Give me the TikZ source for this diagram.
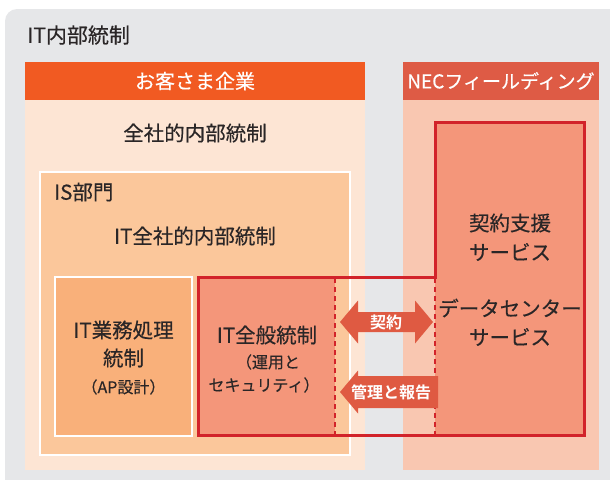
\documentclass[tikz,border=0pt]{standalone}
\usepackage{fontspec}
\setmainfont{Noto Sans CJK JP}[FakeBold=0.35]
\newfontfamily\jpbold{Noto Sans CJK JP Bold}
\definecolor{bggray}{HTML}{E6E7E9}
\definecolor{custhead}{HTML}{F15A22}
\definecolor{custbody}{HTML}{FDE5D4}
\definecolor{nechead}{HTML}{DE5B45}
\definecolor{necbody}{HTML}{F9C7B1}
\definecolor{isfill}{HTML}{FBC79B}
\definecolor{apfill}{HTML}{F9B07A}
\definecolor{salmon}{HTML}{F4967A}
\definecolor{redline}{HTML}{D2232A}
\definecolor{arrowc}{HTML}{DF5A42}
\definecolor{txt}{HTML}{2A2627}
\tikzset{
  lbl/.style={text=txt, font=\fontsize{20.5}{24}\selectfont, inner sep=0pt},
  sublbl/.style={text=txt, font=\fontsize{16}{19}\selectfont, inner sep=0pt},
  headlbl/.style={text=white, font=\fontsize{20}{24}\selectfont, inner sep=0pt},
  arrlbl/.style={text=white, font=\jpbold\fontsize{16}{19}\selectfont, inner sep=0pt},
  whitebox/.style={draw=white, line width=2.5pt},
  redframe/.style={draw=redline, line width=3pt, line join=miter},
  reddash/.style={draw=redline, line width=2.2pt, dash pattern=on 5pt off 4pt},
}
\begin{document}
\begin{tikzpicture}[x=1pt,y=-1pt]
\useasboundingbox (0,0) rectangle (610,479);
% background panel
\fill[bggray, rounded corners=12pt] (5,500) -- (5,9) -- (630,9) -- (630,500) -- cycle;
\node[lbl, anchor=west, font=\fontsize{21}{24}\selectfont] (title) at (27,35) {IT内部統制};
% customer column
\fill[custbody] (25,100) rectangle (365,470);
\fill[custhead] (25,62) rectangle (365,100);
\node[headlbl] (cust) at (195,81) {お客さま企業};
\node[lbl] (zensha) at (195,133) {全社的内部統制};
% NEC column
\fill[necbody] (403,100) rectangle (599,470);
\fill[nechead] (403,62) rectangle (599,100);
\node[headlbl, font=\fontsize{19}{22}\selectfont] (nec) at (501,81) {NECフィールディング};
% IS department box
\filldraw[isfill, whitebox] (40,172) rectangle (350,455);
\node[lbl, anchor=west] (isdept) at (54,192) {IS部門};
\node[lbl] (itzensha) at (195,236) {IT全社的内部統制};
% AP box
\filldraw[apfill, whitebox] (55,277) rectangle (192,436);
\node[lbl] (ap1) at (123.5,330) {IT業務処理};
\node[lbl] (ap2) at (123.5,358) {統制};
\node[sublbl] (ap3) at (123.5,387) {（AP設計）};
% salmon regions
\fill[salmon] (198,277) rectangle (335,435);
\fill[salmon] (435,122) rectangle (584,435);
% dashed lines
\coordinate (d1t) at (335,278); \coordinate (d1b) at (335,434);
\coordinate (d2t) at (435,278); \coordinate (d2b) at (435,434);
\draw[reddash] (d1t) -- (d1b);
\draw[reddash] (d2t) -- (d2b);
% red frame
\draw[redframe] (198,277) -- (435,277) -- (435,122) -- (584,122) -- (584,435) -- (198,435) -- cycle;
% general controls text
\node[lbl] (gen1) at (267,335) {IT全般統制};
\node[sublbl] (gen2) at (268,362) {（運用と};
\node[sublbl] (gen3) at (264,385) {セキュリティ）};
% NEC services text
\node[lbl] (svc1) at (510,223) {契約支援};
\node[lbl] (svc2) at (510,252) {サービス};
\node[lbl] (svc3) at (510,308) {データセンター};
\node[lbl] (svc4) at (510,337) {サービス};
% double arrow
\fill[arrowc] (340,322) -- (358,300.5) -- (358,312) -- (415,312) -- (415,300.5) -- (433,322) -- (415,343.5) -- (415,332) -- (358,332) -- (358,343.5) -- cycle;
\node[arrlbl] (contract) at (386,322) {契約};
% single arrow
\fill[arrowc] (340,392) -- (358,370.5) -- (358,376) -- (438,376) -- (438,408) -- (358,408) -- (358,413.5) -- cycle;
\node[arrlbl] (report) at (391,392) {管理と報告};
\end{tikzpicture}
\end{document}
